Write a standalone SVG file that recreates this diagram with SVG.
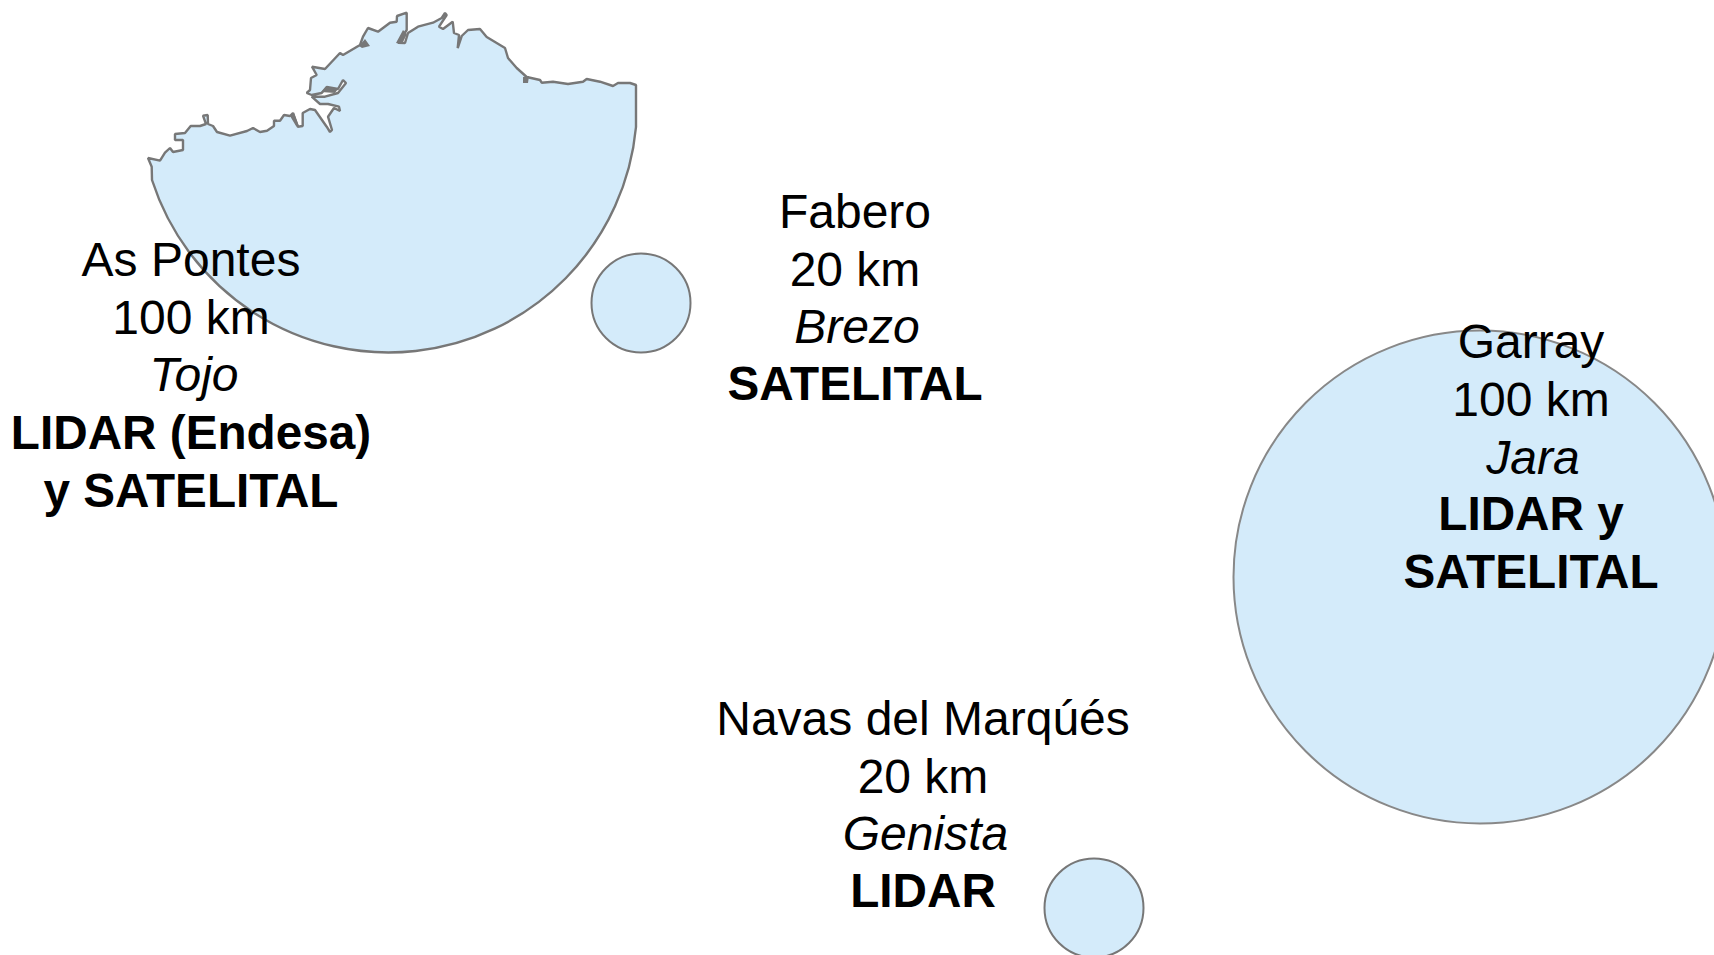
<svg xmlns="http://www.w3.org/2000/svg" width="1714" height="955" viewBox="0 0 1714 955">
<style>
.a{fill:#d4ebfa;stroke:#777;stroke-width:2}
.c{fill:#d4ebfa;stroke:#777;stroke-width:2.4;stroke-linejoin:bevel}
.k{fill:#777;stroke:none}
text{font-family:"Liberation Sans",Arial,sans-serif;font-size:48px;fill:#000;text-anchor:middle}
.i{font-style:italic}
.b{font-weight:bold;font-size:47.7px}
</style>
<rect width="1714" height="955" fill="#fff"/>
<g id="as-pontes">
<path class="c" d="M152,180 L151.7,166.7 148,158 160,160.7 165,152.7 170,148 173,152 183,150 183,140 175,140 175,134 185,133 190.7,126 200,126 206,124 203,115.7 207.7,115 208,124 213,126 217,132 230,135.7 247,131 253,128 260,132 267,130.7 274,126 274,120.7 280,120.7 284,115 290,116 293,113 297.7,126.7 302.7,126 302.7,113 310,109 315,110 326.7,126.7 330,132 332,130 328,116.7 334,108 340,111 339,106.7 328,104 320,104 311.7,96.7 325,96.7 338,93 346,83 343,80 338,89 326.7,87 321.7,93 311.7,95 306.7,93 310,90 311,78 316.7,75 312,66.7 325,69 340,53 343,55 360,45 363,36.7 368,28 378,31.7 390,22.7 396.7,21.7 397,16 406.7,12.7 406.7,30 398,42.7 405,43 408,33 418,26.7 433,22.7 441.7,18 445,13 446.7,15 439,26.7 443,29 452.7,21.7 454,33 459,35 457.7,48 461.7,36 468,30 480,29 486.7,37 505,48 508,58 516.7,68 526.7,77 540,80 541.7,82.7 553,81.7 568,84 583,81.7 586.7,79 600,81.7 613,86 618,83 630,83 636,85 L636,127 A248.5,248.5 0 0 1 152,180 Z"/>
<path class="k" d="M359,46 L365,39 370,46 362,48 Z M290,116 L294,113 299,126 296,126 Z M396,43 L403,30 407,34 402,44 Z M523,77 L529,76 528,83 523,83 Z M321,92 L326,87 338,89 335,93 Z"/>
<text x="191" y="275.500">As Pontes</text>
<text x="191" y="333.500">100 km</text>
<text x="194" y="391" class="i">Tojo</text>
<text x="191" y="449" class="b">LIDAR (Endesa)</text>
<text x="191" y="506.500" class="b">y SATELITAL</text>
</g>
<g id="fabero">
<circle class="a" cx="641" cy="303" r="49.5"/>
<text x="855" y="227.500">Fabero</text>
<text x="855" y="285.500">20 km</text>
<text x="857" y="343" class="i">Brezo</text>
<text x="855" y="400" class="b">SATELITAL</text>
</g>
<g id="garray">
<circle class="a" cx="1480" cy="577" r="246.5" style="stroke:#888"/>
<text x="1531" y="357.500">Garray</text>
<text x="1531" y="415.500">100 km</text>
<text x="1533" y="473.500" class="i">Jara</text>
<text x="1531" y="530" class="b">LIDAR y</text>
<text x="1531" y="588" class="b">SATELITAL</text>
</g>
<g id="navas">
<circle class="a" cx="1094" cy="908" r="49.5"/>
<text x="923" y="734.500">Navas del Marqúés</text>
<text x="923" y="792.500">20 km</text>
<text x="925.500" y="850" class="i">Genista</text>
<text x="923" y="907" class="b">LIDAR</text>
</g>
<g id="connectors"></g>
</svg>
